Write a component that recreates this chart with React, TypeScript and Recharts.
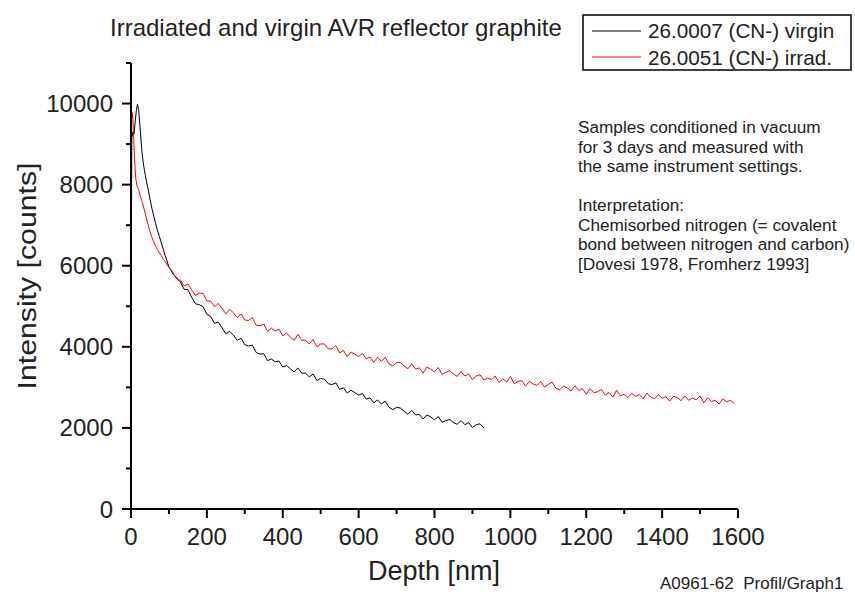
import React from 'react';
import { LineChart, Line, XAxis, YAxis } from 'recharts';

const virginDepth = [
  0, 2, 5, 8, 11, 14, 17, 20, 23, 26, 29, 32, 35, 38, 42, 46, 50, 55, 60, 65, 70, 75, 80, 85, 90, 95, 100, 105, 110, 115, 120, 125,
  130, 140, 150, 160, 170, 180, 190, 200, 210, 220, 230, 240, 250, 260, 270, 280, 290, 300, 310, 320, 330, 340, 350, 360, 370, 380, 390,
  400, 410, 420, 430, 440, 450, 460, 470, 480, 490, 500, 510, 520, 530, 540, 550, 560, 570, 580, 590, 600, 610, 620, 630, 640, 650,
  660, 670, 680, 690, 700, 710, 720, 730, 740, 750, 760, 770, 780, 790, 800, 810, 820, 830, 840, 850, 860, 870, 880, 890, 900, 910, 920, 930,
];
const virginCounts = [
  3200, 9150, 9300, 9250, 9550, 9820, 9980, 9860, 9520, 9150, 8800, 8560, 8380, 8220, 8020, 7850, 7640, 7420, 7220, 7040, 6860, 6720, 6560, 6410, 6250, 6120, 5960, 5910, 5800, 5760, 5680, 5650,
  5600, 5420, 5410, 5220, 5060, 5040, 4990, 4800, 4750, 4580, 4610, 4470, 4320, 4380, 4290, 4160, 4210, 4050, 4020, 4040, 3860, 3820, 3830, 3660, 3700, 3630, 3650,
  3500, 3540, 3460, 3380, 3480, 3350, 3350, 3260, 3330, 3170, 3220, 3200, 3090, 3070, 3110, 2950, 2990, 2860, 2930, 2870, 2810, 2850, 2710, 2740, 2620, 2690,
  2590, 2660, 2510, 2450, 2510, 2490, 2410, 2340, 2430, 2320, 2330, 2220, 2320, 2270, 2200, 2280, 2140, 2180, 2210, 2130, 2090, 2180, 2080, 2130, 2010, 2080, 2100, 2000,
];

const irradDepth = [
  0, 1, 3, 5, 7, 9, 11, 13, 16, 20, 25, 30, 35, 40, 45, 50, 55, 60, 65, 70, 75, 80, 85, 90, 95, 100, 105, 110, 115, 120, 125,
  130, 140, 150, 160, 170, 180, 190, 200, 210, 220, 230, 240, 250, 260, 270, 280, 290, 300, 310, 320, 330, 340, 350, 360, 370, 380, 390,
  400, 410, 420, 430, 440, 450, 460, 470, 480, 490, 500, 510, 520, 530, 540, 550, 560, 570, 580, 590, 600, 610, 620, 630, 640, 650,
  660, 670, 680, 690, 700, 710, 720, 730, 740, 750, 760, 770, 780, 790, 800, 810, 820, 830, 840, 850, 860, 870, 880, 890, 900, 910,
  920, 930, 940, 950, 960, 970, 980, 990, 1000, 1010, 1020, 1030, 1040, 1050, 1060, 1070, 1080, 1090, 1100, 1110, 1120, 1130, 1140,
  1150, 1160, 1170, 1180, 1190, 1200, 1210, 1220, 1230, 1240, 1250, 1260, 1270, 1280, 1290, 1300, 1310, 1320, 1330, 1340, 1350, 1360,
  1370, 1380, 1390, 1400, 1410, 1420, 1430, 1440, 1450, 1460, 1470, 1480, 1490, 1500, 1510, 1520, 1530, 1540, 1550, 1560, 1570, 1580, 1590,
];
const irradCounts = [
  3000, 9300, 9780, 9620, 9150, 8700, 8380, 8120, 7960, 7880, 7700, 7560, 7380, 7200, 7010, 6840, 6700, 6590, 6480, 6400, 6310, 6250, 6160, 6110, 6020, 5970, 5890, 5840, 5750, 5720, 5640,
  5650, 5500, 5550, 5400, 5270, 5320, 5320, 5130, 5130, 4990, 5070, 4950, 4810, 4920, 4840, 4720, 4810, 4660, 4650, 4720, 4530, 4520, 4560, 4380, 4460, 4390, 4440,
  4270, 4340, 4240, 4160, 4310, 4160, 4160, 4070, 4180, 4000, 4070, 4070, 3950, 3950, 4030, 3850, 3910, 3760, 3870, 3820, 3760, 3840, 3700, 3750, 3620, 3740,
  3640, 3740, 3580, 3530, 3610, 3610, 3530, 3460, 3580, 3450, 3480, 3350, 3500, 3450, 3380, 3490, 3320, 3370, 3410, 3330, 3270, 3390, 3280, 3330, 3190, 3280,
  3310, 3180, 3230, 3190, 3280, 3120, 3210, 3130, 3270, 3090, 3140, 3170, 3030, 3150, 3080, 3050, 3140, 3010, 3070, 3130, 2980, 2940, 3030,
  2990, 2910, 3040, 2920, 2970, 2830, 2970, 2870, 2890, 2950, 2810, 2870, 2760, 2930, 2790, 2830, 2750, 2850, 2780, 2820, 2720, 2860,
  2760, 2720, 2820, 2730, 2770, 2660, 2780, 2750, 2670, 2790, 2680, 2740, 2690, 2790, 2620, 2740, 2650, 2680, 2590, 2720, 2640, 2680, 2600,
];

const xTicks = [0, 100, 200, 300, 400, 500, 600, 700, 800, 900, 1000, 1100, 1200, 1300, 1400, 1500, 1600];
const yTicks = [0, 1000, 2000, 3000, 4000, 5000, 6000, 7000, 8000, 9000, 10000, 11000];

const titleText = 'Irradiated and virgin AVR reflector graphite';
const legendNames = ['26.0007 (CN-) virgin', '26.0051 (CN-) irrad.'];
const noteLines = [
  'Samples conditioned in vacuum',
  'for 3 days and measured with',
  'the same instrument settings.',
  '',
  'Interpretation:',
  'Chemisorbed nitrogen (= covalent',
  'bond between nitrogen and carbon)',
  '[Dovesi 1978, Fromherz 1993]',
];
const footerText = 'A0961-62  Profil/Graph1';

const virginData = virginDepth.map((d, i) => ({ depth: d, counts: virginCounts[i] }));
const irradData = irradDepth.map((d, i) => ({ depth: d, counts: irradCounts[i] }));

const FONT = '"Liberation Sans", Arial, Helvetica, sans-serif';
const TXT = '#222';

const XTick = (props: any) => {
  const { x, y, payload } = props;
  const v = payload.value;
  const major = v % 200 === 0;
  return (
    <g>
      <line x1={x} y1={y} x2={x} y2={y + (major ? 9 : 5)} stroke="#000" strokeWidth={2} />
      {major && (
        <text x={x} y={y + 36} textAnchor="middle" fontSize={24} fontFamily={FONT} fill={TXT}>
          {v}
        </text>
      )}
    </g>
  );
};

const YTick = (props: any) => {
  const { x, y, payload } = props;
  const v = payload.value;
  const major = v % 2000 === 0;
  return (
    <g>
      <line x1={x - (major ? 9 : 5)} y1={y} x2={x} y2={y} stroke="#000" strokeWidth={2} />
      {major && (
        <text x={x - 18} y={y + 8.5} textAnchor="end" fontSize={24} fontFamily={FONT} fill={TXT}>
          {v}
        </text>
      )}
    </g>
  );
};

export default function App() {
  return (
    <div style={{ position: 'absolute', left: 0, top: 0, width: 855, height: 595, background: '#fff' }}>
      <LineChart width={855} height={595} margin={{ top: 63, right: 117, bottom: 46, left: 71 }}>
        <XAxis
          dataKey="depth"
          type="number"
          domain={[0, 1600]}
          ticks={xTicks}
          interval={0}
          allowDataOverflow
          height={40}
          tickSize={0}
          tickMargin={0}
          tickLine={false}
          axisLine={{ stroke: '#000', strokeWidth: 2 }}
          tick={<XTick />}
        />
        <YAxis
          type="number"
          domain={[0, 11000]}
          ticks={yTicks}
          interval={0}
          allowDataOverflow
          width={60}
          tickSize={0}
          tickMargin={0}
          tickLine={false}
          axisLine={{ stroke: '#000', strokeWidth: 2 }}
          tick={<YTick />}
        />
        <Line data={virginData} dataKey="counts" type="linear" stroke="#000" strokeWidth={1} dot={false} isAnimationActive={false} />
        <Line data={irradData} dataKey="counts" type="linear" stroke="#ff0000" strokeWidth={1} dot={false} isAnimationActive={false} />
      </LineChart>
      <svg width={855} height={595} style={{ position: 'absolute', left: 0, top: 0, pointerEvents: 'none' }}>
        <text x={110} y={36} fontSize={24} fontFamily={FONT} fill={TXT}>{titleText}</text>
        <rect x={583} y={15} width={268} height={55} fill="none" stroke="#000" strokeWidth={1.5} />
        <line x1={592} y1={31} x2={641} y2={31} stroke="#000" strokeWidth={1} />
        <line x1={592} y1={57} x2={641} y2={57} stroke="#ff0000" strokeWidth={1} />
        <text x={648} y={38} fontSize={20.7} fontFamily={FONT} fill={TXT}>{legendNames[0]}</text>
        <text x={648} y={65} fontSize={20.7} fontFamily={FONT} fill={TXT}>{legendNames[1]}</text>
        {noteLines.map((t, i) => (
          <text key={i} x={578} y={133 + i * 19.5} fontSize={17.2} fontFamily={FONT} fill={TXT}>{t}</text>
        ))}
        <text x={434} y={580} textAnchor="middle" fontSize={27} fontFamily={FONT} fill={TXT}>Depth [nm]</text>
        <text x={36} y={276} transform="rotate(-90 36 276)" textAnchor="middle" fontSize={26} fontFamily={FONT} fill={TXT} textLength={227} lengthAdjust="spacingAndGlyphs">Intensity [counts]</text>
        <text x={660} y={589} fontSize={17} fontFamily={FONT} fill={TXT} style={{ whiteSpace: 'pre' }}>{footerText}</text>
      </svg>
    </div>
  );
}
